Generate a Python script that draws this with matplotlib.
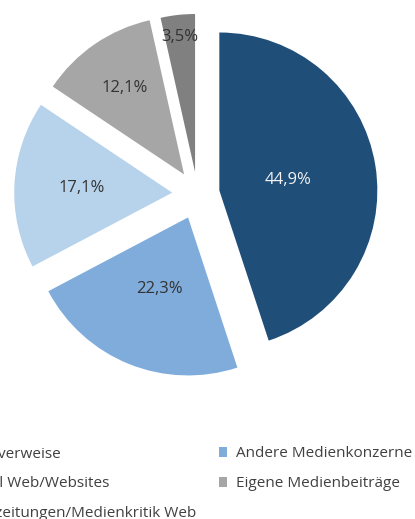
import matplotlib
matplotlib.use("Agg")
import matplotlib.pyplot as plt
import numpy as np

plt.rcParams['font.family'] = ['Open Sans', 'DejaVu Sans']

# Daten
namen = ["Querverweise", "Andere Medienkonzerne", "Social Web/Websites",
         "Eigene Medienbeiträge", "Fachzeitungen/Medienkritik Web"]
anteile = [44.9, 22.3, 17.1, 12.1, 3.5]
farben = ["#1F4E79", "#7FACDB", "#B7D3EC", "#A6A6A6", "#808080"]
textfarben = ["#F2F2F2", "#333333", "#333333", "#333333", "#333333"]
explode = [0.14, 0.16, 0.16, 0.15, 0.14]
lab_r = [0.44, 0.49, 0.576, 0.66, 0.86]   # Abstand der Beschriftung

W, H = 415, 519
fig = plt.figure(figsize=(W / 100, H / 100), dpi=100)
ax = fig.add_axes([0, 0, 1, 1])

wedges, _, autotexts = ax.pie(anteile, colors=farben, explode=explode,
                              startangle=90, counterclock=False,
                              autopct=lambda p: "", radius=1)
for w, t, r, s, c in zip(wedges, autotexts, lab_r, anteile, textfarben):
    mitte = np.deg2rad((w.theta1 + w.theta2) / 2)
    cx, cy = w.center
    t.set_position((cx + r * np.cos(mitte), cy + r * np.sin(mitte)))
    t.set_text(("%.1f%%" % s).replace(".", ","))
    t.set_color(c)
    t.set_fontsize(12)
    t.set_ha("center")
    t.set_va("center")

# Pie-Mittelpunkt bei ca. (197.5, 194) px, Radius ca. 158 px
px = 158.0
ax.set_xlim(-197.5 / px, (W - 197.5) / px)
ax.set_ylim(-(H - 194) / px, 194 / px)
ax.set_aspect("auto")
ax.axis("off")

# Legende zeilenweise wie im Original -> Reihenfolge fuer spaltenweises Fuellen
reihenfolge = [0, 2, 4, 1, 3]
leg = fig.legend([wedges[i] for i in reihenfolge], [namen[i] for i in reihenfolge],
                 ncol=2, loc="upper left", bbox_to_anchor=(0, 0.2),
                 bbox_transform=fig.transFigure, frameon=False, fontsize=11,
                 handlelength=0.55, handleheight=0.55, handletextpad=0.55,
                 columnspacing=1.5, labelspacing=0.98, labelcolor="#404040")

fig.canvas.draw()
r = fig.canvas.get_renderer()
bb = leg.legend_handles[3].get_window_extent(r)
dx = 219 - bb.x0
dy = (H - 452) - (bb.y0 + bb.y1) / 2
leg.set_bbox_to_anchor((0 + dx / W, 0.2 + dy / H), transform=fig.transFigure)

fig.savefig("out.png", dpi=100)
